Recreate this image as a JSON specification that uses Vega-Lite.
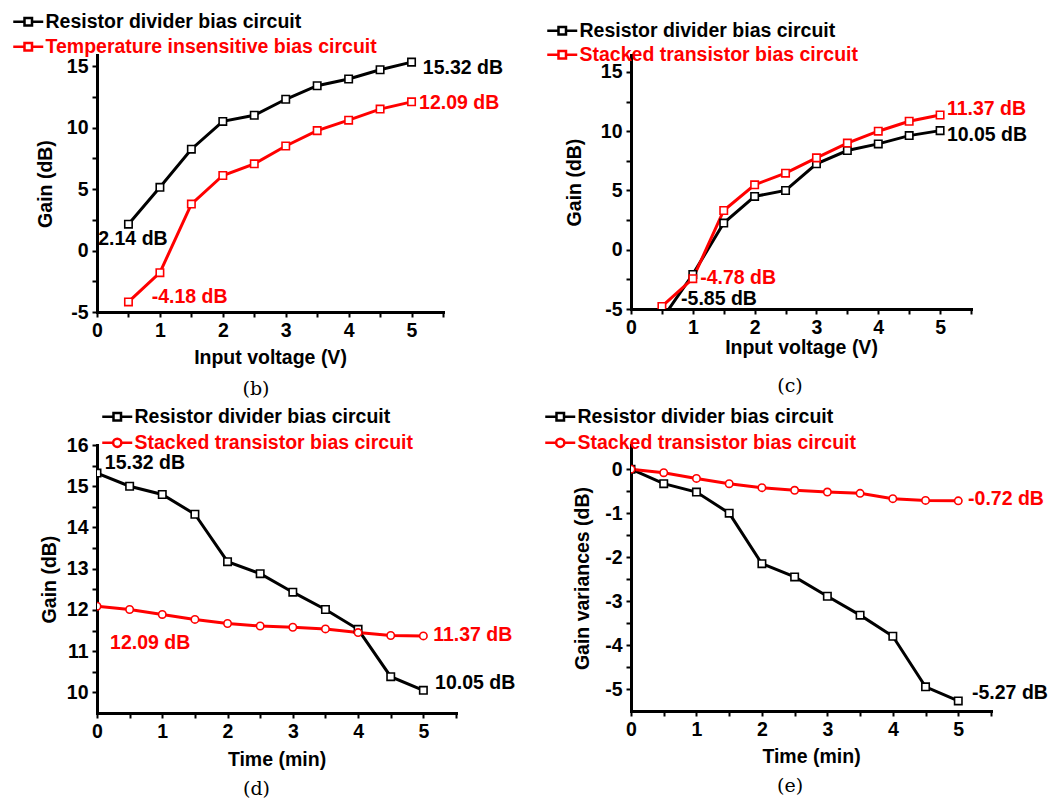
{
  "$schema": "https://vega.github.io/schema/vega-lite/v6.json",
  "autosize": {"type": "none"},
  "padding": {"left": 97, "top": 55, "right": 954, "bottom": 746},
  "background": "white",
  "datasets": {
    "b": [
      {"x": 0.5, "gain": 2.14, "series": "Resistor divider bias circuit"},
      {"x": 1, "gain": 5.14, "series": "Resistor divider bias circuit"},
      {"x": 1.5, "gain": 8.24, "series": "Resistor divider bias circuit"},
      {"x": 2, "gain": 10.5, "series": "Resistor divider bias circuit"},
      {"x": 2.5, "gain": 11.0, "series": "Resistor divider bias circuit"},
      {"x": 3, "gain": 12.3, "series": "Resistor divider bias circuit"},
      {"x": 3.5, "gain": 13.4, "series": "Resistor divider bias circuit"},
      {"x": 4, "gain": 13.95, "series": "Resistor divider bias circuit"},
      {"x": 4.5, "gain": 14.7, "series": "Resistor divider bias circuit"},
      {"x": 5, "gain": 15.32, "series": "Resistor divider bias circuit"},
      {"x": 0.5, "gain": -4.18, "series": "Temperature insensitive bias circuit"},
      {"x": 1, "gain": -1.8, "series": "Temperature insensitive bias circuit"},
      {"x": 1.5, "gain": 3.78, "series": "Temperature insensitive bias circuit"},
      {"x": 2, "gain": 6.1, "series": "Temperature insensitive bias circuit"},
      {"x": 2.5, "gain": 7.05, "series": "Temperature insensitive bias circuit"},
      {"x": 3, "gain": 8.5, "series": "Temperature insensitive bias circuit"},
      {"x": 3.5, "gain": 9.75, "series": "Temperature insensitive bias circuit"},
      {"x": 4, "gain": 10.6, "series": "Temperature insensitive bias circuit"},
      {"x": 4.5, "gain": 11.5, "series": "Temperature insensitive bias circuit"},
      {"x": 5, "gain": 12.09, "series": "Temperature insensitive bias circuit"}
    ],
    "b_lab": [
      {"x": 5.18, "gain": 14.84, "text": "15.32 dB", "series": "Resistor divider bias circuit"},
      {"x": 5.12, "gain": 12.0, "text": "12.09 dB", "series": "Temperature insensitive bias circuit"},
      {"x": 0.02, "gain": 0.94, "text": "2.14 dB", "series": "Resistor divider bias circuit"},
      {"x": 0.87, "gain": -3.8, "text": "-4.18 dB", "series": "Temperature insensitive bias circuit"}
    ],
    "c": [
      {"x": 0.5, "gain": -5.85, "series": "Resistor divider bias circuit"},
      {"x": 1, "gain": -2.08, "series": "Resistor divider bias circuit"},
      {"x": 1.5, "gain": 2.25, "series": "Resistor divider bias circuit"},
      {"x": 2, "gain": 4.5, "series": "Resistor divider bias circuit"},
      {"x": 2.5, "gain": 5.0, "series": "Resistor divider bias circuit"},
      {"x": 3, "gain": 7.25, "series": "Resistor divider bias circuit"},
      {"x": 3.5, "gain": 8.37, "series": "Resistor divider bias circuit"},
      {"x": 4, "gain": 8.93, "series": "Resistor divider bias circuit"},
      {"x": 4.5, "gain": 9.63, "series": "Resistor divider bias circuit"},
      {"x": 5, "gain": 10.05, "series": "Resistor divider bias circuit"},
      {"x": 0.5, "gain": -4.78, "series": "Stacked transistor bias circuit"},
      {"x": 1, "gain": -2.44, "series": "Stacked transistor bias circuit"},
      {"x": 1.5, "gain": 3.31, "series": "Stacked transistor bias circuit"},
      {"x": 2, "gain": 5.48, "series": "Stacked transistor bias circuit"},
      {"x": 2.5, "gain": 6.46, "series": "Stacked transistor bias circuit"},
      {"x": 3, "gain": 7.75, "series": "Stacked transistor bias circuit"},
      {"x": 3.5, "gain": 9.0, "series": "Stacked transistor bias circuit"},
      {"x": 4, "gain": 10.0, "series": "Stacked transistor bias circuit"},
      {"x": 4.5, "gain": 10.84, "series": "Stacked transistor bias circuit"},
      {"x": 5, "gain": 11.37, "series": "Stacked transistor bias circuit"}
    ],
    "c_lab": [
      {"x": 5.11, "gain": 11.87, "text": "11.37 dB", "series": "Stacked transistor bias circuit"},
      {"x": 5.11, "gain": 9.68, "text": "10.05 dB", "series": "Resistor divider bias circuit"},
      {"x": 1.12, "gain": -2.39, "text": "-4.78 dB", "series": "Stacked transistor bias circuit"},
      {"x": 0.81, "gain": -4.16, "text": "-5.85 dB", "series": "Resistor divider bias circuit"}
    ],
    "d": [
      {"x": 0, "gain": 15.32, "series": "Resistor divider bias circuit"},
      {"x": 0.5, "gain": 15.0, "series": "Resistor divider bias circuit"},
      {"x": 1, "gain": 14.8, "series": "Resistor divider bias circuit"},
      {"x": 1.5, "gain": 14.32, "series": "Resistor divider bias circuit"},
      {"x": 2, "gain": 13.17, "series": "Resistor divider bias circuit"},
      {"x": 2.5, "gain": 12.88, "series": "Resistor divider bias circuit"},
      {"x": 3, "gain": 12.43, "series": "Resistor divider bias circuit"},
      {"x": 3.5, "gain": 12.01, "series": "Resistor divider bias circuit"},
      {"x": 4, "gain": 11.53, "series": "Resistor divider bias circuit"},
      {"x": 4.5, "gain": 10.38, "series": "Resistor divider bias circuit"},
      {"x": 5, "gain": 10.05, "series": "Resistor divider bias circuit"},
      {"x": 0, "gain": 12.09, "series": "Stacked transistor bias circuit"},
      {"x": 0.5, "gain": 12.01, "series": "Stacked transistor bias circuit"},
      {"x": 1, "gain": 11.89, "series": "Stacked transistor bias circuit"},
      {"x": 1.5, "gain": 11.77, "series": "Stacked transistor bias circuit"},
      {"x": 2, "gain": 11.67, "series": "Stacked transistor bias circuit"},
      {"x": 2.5, "gain": 11.61, "series": "Stacked transistor bias circuit"},
      {"x": 3, "gain": 11.58, "series": "Stacked transistor bias circuit"},
      {"x": 3.5, "gain": 11.54, "series": "Stacked transistor bias circuit"},
      {"x": 4, "gain": 11.45, "series": "Stacked transistor bias circuit"},
      {"x": 4.5, "gain": 11.38, "series": "Stacked transistor bias circuit"},
      {"x": 5, "gain": 11.37, "series": "Stacked transistor bias circuit"}
    ],
    "d_lab": [
      {"x": 0.12, "gain": 15.56, "text": "15.32 dB", "series": "Resistor divider bias circuit"},
      {"x": 0.2, "gain": 11.2, "text": "12.09 dB", "series": "Stacked transistor bias circuit"},
      {"x": 5.15, "gain": 11.39, "text": "11.37 dB", "series": "Stacked transistor bias circuit"},
      {"x": 5.18, "gain": 10.23, "text": "10.05 dB", "series": "Resistor divider bias circuit"}
    ],
    "e": [
      {"x": 0, "gain": 0, "series": "Resistor divider bias circuit"},
      {"x": 0.5, "gain": -0.33, "series": "Resistor divider bias circuit"},
      {"x": 1, "gain": -0.52, "series": "Resistor divider bias circuit"},
      {"x": 1.5, "gain": -1.0, "series": "Resistor divider bias circuit"},
      {"x": 2, "gain": -2.15, "series": "Resistor divider bias circuit"},
      {"x": 2.5, "gain": -2.45, "series": "Resistor divider bias circuit"},
      {"x": 3, "gain": -2.89, "series": "Resistor divider bias circuit"},
      {"x": 3.5, "gain": -3.32, "series": "Resistor divider bias circuit"},
      {"x": 4, "gain": -3.8, "series": "Resistor divider bias circuit"},
      {"x": 4.5, "gain": -4.95, "series": "Resistor divider bias circuit"},
      {"x": 5, "gain": -5.27, "series": "Resistor divider bias circuit"},
      {"x": 0, "gain": 0, "series": "Stacked transistor bias circuit"},
      {"x": 0.5, "gain": -0.08, "series": "Stacked transistor bias circuit"},
      {"x": 1, "gain": -0.21, "series": "Stacked transistor bias circuit"},
      {"x": 1.5, "gain": -0.33, "series": "Stacked transistor bias circuit"},
      {"x": 2, "gain": -0.42, "series": "Stacked transistor bias circuit"},
      {"x": 2.5, "gain": -0.48, "series": "Stacked transistor bias circuit"},
      {"x": 3, "gain": -0.52, "series": "Stacked transistor bias circuit"},
      {"x": 3.5, "gain": -0.55, "series": "Stacked transistor bias circuit"},
      {"x": 4, "gain": -0.67, "series": "Stacked transistor bias circuit"},
      {"x": 4.5, "gain": -0.71, "series": "Stacked transistor bias circuit"},
      {"x": 5, "gain": -0.72, "series": "Stacked transistor bias circuit"}
    ],
    "e_lab": [
      {"x": 5.15, "gain": -0.68, "text": "-0.72 dB", "series": "Stacked transistor bias circuit"},
      {"x": 5.21, "gain": -5.09, "text": "-5.27 dB", "series": "Resistor divider bias circuit"}
    ]
  },
  "columns": 2,
  "spacing": {"row": 133, "column": 175},
  "bounds": "flush",
  "resolve": {
    "scale": {"x": "independent", "y": "independent", "color": "independent", "stroke": "independent"}
  },
  "concat": [
    {
      "width": 346, "height": 257,
      "title": {"text": "(b)", "orient": "bottom", "anchor": "middle", "font": "DejaVu Serif", "fontSize": 19, "fontWeight": "normal", "color": "black", "offset": 13, "dx": -14},
      "encoding": {
        "x": {"field": "x", "type": "quantitative", "scale": {"domain": [0, 5.5], "nice": false, "zero": false},
          "axis": {"title": "Input voltage (V)", "values": [0, 0.5, 1, 1.5, 2, 2.5, 3, 3.5, 4, 4.5, 5, 5.5], "labelExpr": "datum.value % 1 === 0 ? '' + datum.value : ''", "titlePadding": 9}},
        "y": {"field": "gain", "type": "quantitative", "scale": {"domain": [-5, 15.9], "nice": false, "zero": false},
          "axis": {"title": "Gain (dB)", "values": [-5, -2.5, 0, 2.5, 5, 7.5, 10, 12.5, 15], "labelExpr": "datum.value % 5 === 0 ? '' + datum.value : ''", "titlePadding": 11}}
      },
      "layer": [
        {
          "data": {"name": "b"},
          "transform": [{"filter": "datum.series === 'Resistor divider bias circuit'"}],
          "mark": {"type": "line", "strokeWidth": 3, "clip": true},
          "encoding": {
            "color": {"field": "series", "type": "nominal", "scale": {"domain": ["Resistor divider bias circuit"], "range": ["black"]},
              "legend": {"orient": "none", "legendX": -86, "legendY": -43, "title": null, "padding": 0, "symbolSize": 225, "symbolType": "M-1,0L0.5,0M0.5,-0.5L1.5,-0.5L1.5,0.5L0.5,0.5ZM1.5,0L3,0", "symbolFillColor": "white", "symbolStrokeWidth": 2.5, "labelOffset": 15, "labelColor": "black", "labelFont": "Liberation Sans", "labelFontSize": 19.5, "labelFontWeight": "bold", "labelLimit": 0}}
          }
        },
        {
          "data": {"name": "b"},
          "transform": [{"filter": "datum.series !== 'Resistor divider bias circuit'"}],
          "mark": {"type": "line", "strokeWidth": 3, "clip": true},
          "encoding": {
            "stroke": {"field": "series", "type": "nominal", "scale": {"domain": ["Temperature insensitive bias circuit"], "range": ["#ff0000"]},
              "legend": {"orient": "none", "legendX": -86, "legendY": -18, "title": null, "padding": 0, "symbolSize": 225, "symbolType": "M-1,0L0.5,0M0.5,-0.5L1.5,-0.5L1.5,0.5L0.5,0.5ZM1.5,0L3,0", "symbolFillColor": "white", "symbolStrokeWidth": 2.5, "labelOffset": 15, "labelColor": "#ff0000", "labelFont": "Liberation Sans", "labelFontSize": 19.5, "labelFontWeight": "bold", "labelLimit": 0}}
          }
        },
        {
          "data": {"name": "b"},
          "transform": [{"filter": "datum.series === 'Resistor divider bias circuit'"}],
          "mark": {"type": "point", "shape": "square", "size": 55, "filled": false, "fill": "white", "fillOpacity": 1, "opacity": 1, "strokeWidth": 1.6, "clip": true},
          "encoding": {"color": {"field": "series", "type": "nominal"}}
        },
        {
          "data": {"name": "b"},
          "transform": [{"filter": "datum.series !== 'Resistor divider bias circuit'"}],
          "mark": {"type": "point", "shape": "square", "size": 55, "filled": false, "fill": "white", "fillOpacity": 1, "opacity": 1, "strokeWidth": 1.6, "clip": true},
          "encoding": {"stroke": {"field": "series", "type": "nominal"}}
        },
        {
          "data": {"name": "b_lab"},
          "mark": {"type": "text", "align": "left", "baseline": "middle", "font": "Liberation Sans", "fontSize": 19.5, "fontWeight": "bold"},
          "encoding": {
            "text": {"field": "text"},
            "color": {"condition": {"test": "datum.series === 'Resistor divider bias circuit'", "value": "black"}, "value": "#ff0000"}
          }
        }
      ]
    },
    {
      "width": 340, "height": 254,
      "title": {"text": "(c)", "orient": "bottom", "anchor": "middle", "font": "DejaVu Serif", "fontSize": 19, "fontWeight": "normal", "color": "black", "offset": 20, "dx": -11},
      "encoding": {
        "x": {"field": "x", "type": "quantitative", "scale": {"domain": [0, 5.5], "nice": false, "zero": false},
          "axis": {"title": "Input voltage (V)", "values": [0, 0.5, 1, 1.5, 2, 2.5, 3, 3.5, 4, 4.5, 5, 5.5], "labelExpr": "datum.value % 1 === 0 ? '' + datum.value : ''", "titlePadding": 2}},
        "y": {"field": "gain", "type": "quantitative", "scale": {"domain": [-5, 16.43], "nice": false, "zero": false},
          "axis": {"title": "Gain  (dB)", "values": [-5, -2.5, 0, 2.5, 5, 7.5, 10, 12.5, 15], "labelExpr": "datum.value % 5 === 0 ? '' + datum.value : ''", "titlePadding": 16}}
      },
      "layer": [
        {
          "data": {"name": "c"},
          "transform": [{"filter": "datum.series === 'Resistor divider bias circuit'"}],
          "mark": {"type": "line", "strokeWidth": 3, "clip": true},
          "encoding": {
            "color": {"field": "series", "type": "nominal", "scale": {"domain": ["Resistor divider bias circuit"], "range": ["black"]},
              "legend": {"orient": "none", "legendX": -86, "legendY": -34, "title": null, "padding": 0, "symbolSize": 225, "symbolType": "M-1,0L0.5,0M0.5,-0.5L1.5,-0.5L1.5,0.5L0.5,0.5ZM1.5,0L3,0", "symbolFillColor": "white", "symbolStrokeWidth": 2.5, "labelOffset": 15, "labelColor": "black", "labelFont": "Liberation Sans", "labelFontSize": 19.5, "labelFontWeight": "bold", "labelLimit": 0}}
          }
        },
        {
          "data": {"name": "c"},
          "transform": [{"filter": "datum.series !== 'Resistor divider bias circuit'"}],
          "mark": {"type": "line", "strokeWidth": 3, "clip": true},
          "encoding": {
            "stroke": {"field": "series", "type": "nominal", "scale": {"domain": ["Stacked transistor bias circuit"], "range": ["#ff0000"]},
              "legend": {"orient": "none", "legendX": -86, "legendY": -10, "title": null, "padding": 0, "symbolSize": 225, "symbolType": "M-1,0L0.5,0M0.5,-0.5L1.5,-0.5L1.5,0.5L0.5,0.5ZM1.5,0L3,0", "symbolFillColor": "white", "symbolStrokeWidth": 2.5, "labelOffset": 15, "labelColor": "#ff0000", "labelFont": "Liberation Sans", "labelFontSize": 19.5, "labelFontWeight": "bold", "labelLimit": 0}}
          }
        },
        {
          "data": {"name": "c"},
          "transform": [{"filter": "datum.series === 'Resistor divider bias circuit'"}],
          "mark": {"type": "point", "shape": "square", "size": 55, "filled": false, "fill": "white", "fillOpacity": 1, "opacity": 1, "strokeWidth": 1.6, "clip": true},
          "encoding": {"color": {"field": "series", "type": "nominal"}}
        },
        {
          "data": {"name": "c"},
          "transform": [{"filter": "datum.series !== 'Resistor divider bias circuit'"}],
          "mark": {"type": "point", "shape": "square", "size": 55, "filled": false, "fill": "white", "fillOpacity": 1, "opacity": 1, "strokeWidth": 1.6, "clip": true},
          "encoding": {"stroke": {"field": "series", "type": "nominal"}}
        },
        {
          "data": {"name": "c_lab"},
          "mark": {"type": "text", "align": "left", "baseline": "middle", "font": "Liberation Sans", "fontSize": 19.5, "fontWeight": "bold"},
          "encoding": {
            "text": {"field": "text"},
            "color": {"condition": {"test": "datum.series === 'Resistor divider bias circuit'", "value": "black"}, "value": "#ff0000"}
          }
        }
      ]
    },
    {
      "width": 359, "height": 268,
      "title": {"text": "(d)", "orient": "bottom", "anchor": "middle", "font": "DejaVu Serif", "fontSize": 19, "fontWeight": "normal", "color": "black", "offset": 11, "dx": -20},
      "encoding": {
        "x": {"field": "x", "type": "quantitative", "scale": {"domain": [0, 5.5], "nice": false, "zero": false},
          "axis": {"title": "Time (min)", "values": [0, 0.5, 1, 1.5, 2, 2.5, 3, 3.5, 4, 4.5, 5, 5.5], "labelExpr": "datum.value % 1 === 0 ? '' + datum.value : ''", "titlePadding": 10}},
        "y": {"field": "gain", "type": "quantitative", "scale": {"domain": [9.5, 16], "nice": false, "zero": false},
          "axis": {"title": "Gain (dB)", "values": [10, 10.5, 11, 11.5, 12, 12.5, 13, 13.5, 14, 14.5, 15, 15.5, 16], "labelExpr": "datum.value % 1 === 0 ? '' + datum.value : ''", "titlePadding": 7}}
      },
      "layer": [
        {
          "data": {"name": "d"},
          "transform": [{"filter": "datum.series === 'Resistor divider bias circuit'"}],
          "mark": {"type": "line", "strokeWidth": 3, "clip": true},
          "encoding": {
            "color": {"field": "series", "type": "nominal", "scale": {"domain": ["Resistor divider bias circuit"], "range": ["black"]},
              "legend": {"orient": "none", "legendX": 3, "legendY": -38, "title": null, "padding": 0, "symbolSize": 225, "symbolType": "M-1,0L0.5,0M0.5,-0.5L1.5,-0.5L1.5,0.5L0.5,0.5ZM1.5,0L3,0", "symbolFillColor": "white", "symbolStrokeWidth": 2.5, "labelOffset": 15, "labelColor": "black", "labelFont": "Liberation Sans", "labelFontSize": 19.5, "labelFontWeight": "bold", "labelLimit": 0}}
          }
        },
        {
          "data": {"name": "d"},
          "transform": [{"filter": "datum.series !== 'Resistor divider bias circuit'"}],
          "mark": {"type": "line", "strokeWidth": 3, "clip": true},
          "encoding": {
            "stroke": {"field": "series", "type": "nominal", "scale": {"domain": ["Stacked transistor bias circuit"], "range": ["#ff0000"]},
              "legend": {"orient": "none", "legendX": 3, "legendY": -12, "title": null, "padding": 0, "symbolSize": 225, "symbolType": "M-1,0L0.45,0A0.55,0.55,0,1,1,1.55,0A0.55,0.55,0,1,1,0.45,0ZM1.55,0L3,0", "symbolFillColor": "white", "symbolStrokeWidth": 2.5, "labelOffset": 15, "labelColor": "#ff0000", "labelFont": "Liberation Sans", "labelFontSize": 19.5, "labelFontWeight": "bold", "labelLimit": 0}}
          }
        },
        {
          "data": {"name": "d"},
          "transform": [{"filter": "datum.series === 'Resistor divider bias circuit'"}],
          "mark": {"type": "point", "shape": "square", "size": 55, "filled": false, "fill": "white", "fillOpacity": 1, "opacity": 1, "strokeWidth": 1.6, "clip": true},
          "encoding": {"color": {"field": "series", "type": "nominal"}}
        },
        {
          "data": {"name": "d"},
          "transform": [{"filter": "datum.series !== 'Resistor divider bias circuit'"}],
          "mark": {"type": "point", "shape": "circle", "size": 55, "filled": false, "fill": "white", "fillOpacity": 1, "opacity": 1, "strokeWidth": 1.6, "clip": true},
          "encoding": {"stroke": {"field": "series", "type": "nominal"}}
        },
        {
          "data": {"name": "d_lab"},
          "mark": {"type": "text", "align": "left", "baseline": "middle", "font": "Liberation Sans", "fontSize": 19.5, "fontWeight": "bold"},
          "encoding": {
            "text": {"field": "text"},
            "color": {"condition": {"test": "datum.series === 'Resistor divider bias circuit'", "value": "black"}, "value": "#ff0000"}
          }
        }
      ]
    },
    {
      "width": 360, "height": 266,
      "title": {"text": "(e)", "orient": "bottom", "anchor": "middle", "font": "DejaVu Serif", "fontSize": 19, "fontWeight": "normal", "color": "black", "offset": 11, "dx": -21},
      "encoding": {
        "x": {"field": "x", "type": "quantitative", "scale": {"domain": [0, 5.5], "nice": false, "zero": false},
          "axis": {"title": "Time (min)", "values": [0, 0.5, 1, 1.5, 2, 2.5, 3, 3.5, 4, 4.5, 5, 5.5], "labelExpr": "datum.value % 1 === 0 ? '' + datum.value : ''", "titlePadding": 9}},
        "y": {"field": "gain", "type": "quantitative", "scale": {"domain": [-5.5, 0.55], "nice": false, "zero": false},
          "axis": {"title": "Gain variances (dB)", "values": [-5, -4.5, -4, -3.5, -3, -2.5, -2, -1.5, -1, -0.5, 0], "labelExpr": "datum.value % 1 === 0 ? '' + datum.value : ''", "titlePadding": 12}}
      },
      "layer": [
        {
          "data": {"name": "e"},
          "transform": [{"filter": "datum.series === 'Resistor divider bias circuit'"}],
          "mark": {"type": "line", "strokeWidth": 3, "clip": true},
          "encoding": {
            "color": {"field": "series", "type": "nominal", "scale": {"domain": ["Resistor divider bias circuit"], "range": ["black"]},
              "legend": {"orient": "none", "legendX": -88, "legendY": -38, "title": null, "padding": 0, "symbolSize": 225, "symbolType": "M-1,0L0.5,0M0.5,-0.5L1.5,-0.5L1.5,0.5L0.5,0.5ZM1.5,0L3,0", "symbolFillColor": "white", "symbolStrokeWidth": 2.5, "labelOffset": 15, "labelColor": "black", "labelFont": "Liberation Sans", "labelFontSize": 19.5, "labelFontWeight": "bold", "labelLimit": 0}}
          }
        },
        {
          "data": {"name": "e"},
          "transform": [{"filter": "datum.series !== 'Resistor divider bias circuit'"}],
          "mark": {"type": "line", "strokeWidth": 3, "clip": true},
          "encoding": {
            "stroke": {"field": "series", "type": "nominal", "scale": {"domain": ["Stacked transistor bias circuit"], "range": ["#ff0000"]},
              "legend": {"orient": "none", "legendX": -88, "legendY": -12, "title": null, "padding": 0, "symbolSize": 225, "symbolType": "M-1,0L0.45,0A0.55,0.55,0,1,1,1.55,0A0.55,0.55,0,1,1,0.45,0ZM1.55,0L3,0", "symbolFillColor": "white", "symbolStrokeWidth": 2.5, "labelOffset": 15, "labelColor": "#ff0000", "labelFont": "Liberation Sans", "labelFontSize": 19.5, "labelFontWeight": "bold", "labelLimit": 0}}
          }
        },
        {
          "data": {"name": "e"},
          "transform": [{"filter": "datum.series === 'Resistor divider bias circuit'"}],
          "mark": {"type": "point", "shape": "square", "size": 55, "filled": false, "fill": "white", "fillOpacity": 1, "opacity": 1, "strokeWidth": 1.6, "clip": true},
          "encoding": {"color": {"field": "series", "type": "nominal"}}
        },
        {
          "data": {"name": "e"},
          "transform": [{"filter": "datum.series !== 'Resistor divider bias circuit'"}],
          "mark": {"type": "point", "shape": "circle", "size": 55, "filled": false, "fill": "white", "fillOpacity": 1, "opacity": 1, "strokeWidth": 1.6, "clip": true},
          "encoding": {"stroke": {"field": "series", "type": "nominal"}}
        },
        {
          "data": {"name": "e_lab"},
          "mark": {"type": "text", "align": "left", "baseline": "middle", "font": "Liberation Sans", "fontSize": 19.5, "fontWeight": "bold"},
          "encoding": {
            "text": {"field": "text"},
            "color": {"condition": {"test": "datum.series === 'Resistor divider bias circuit'", "value": "black"}, "value": "#ff0000"}
          }
        }
      ]
    }
  ],
  "config": {
    "view": {"stroke": null},
    "font": "Liberation Sans",
    "axis": {
      "grid": false, "domainColor": "black", "domainWidth": 3, "domainCap": "square",
      "tickColor": "black", "tickWidth": 2, "tickSize": 5,
      "labelFont": "Liberation Sans", "labelFontSize": 19.5, "labelFontWeight": "bold", "labelColor": "black", "labelPadding": 4,
      "labelFlush": false, "labelOverlap": false, "labelBound": false,
      "titleFont": "Liberation Sans", "titleFontSize": 19.5, "titleFontWeight": "bold", "titleColor": "black"
    }
  }
}
